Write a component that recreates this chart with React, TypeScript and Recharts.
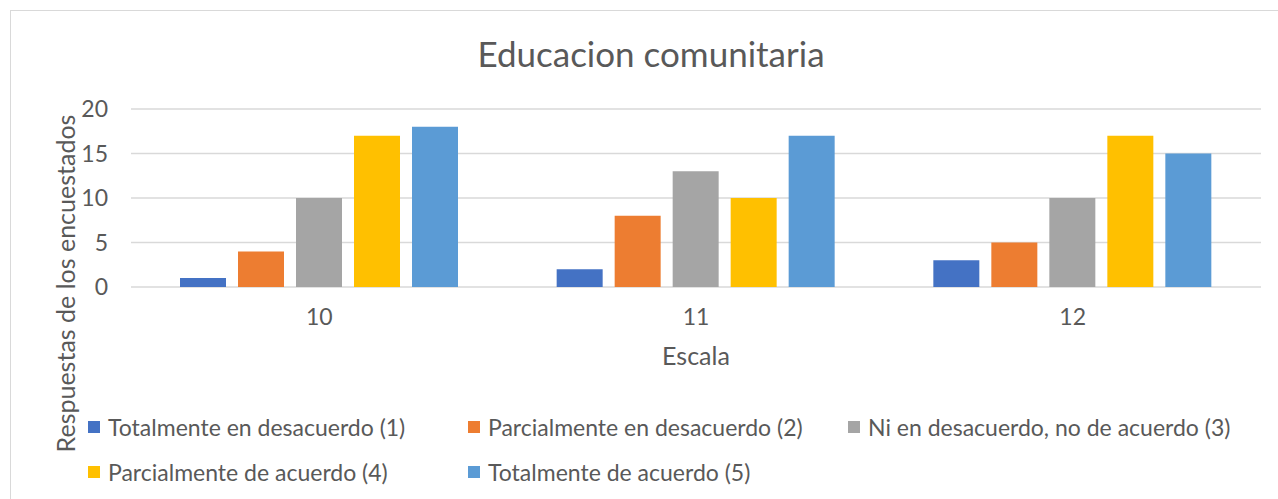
import React from "react";
import {
  BarChart,
  Bar,
  XAxis,
  YAxis,
  CartesianGrid,
  Legend,
  Label,
} from "recharts";

const categories = ["10", "11", "12"];
const totalDesacuerdo = [1, 2, 3];
const parcialDesacuerdo = [4, 8, 5];
const niNi = [10, 13, 10];
const parcialAcuerdo = [17, 10, 17];
const totalAcuerdo = [18, 17, 15];
const yTicks = [0, 5, 10, 15, 20];
const edgeTicks = [0, 1, 2, 3];

const SERIES = [
  { key: "s1", name: "Totalmente en desacuerdo (1)", color: "#4472C4", values: totalDesacuerdo },
  { key: "s2", name: "Parcialmente en desacuerdo (2)", color: "#ED7D31", values: parcialDesacuerdo },
  { key: "s3", name: "Ni en desacuerdo, no de acuerdo (3)", color: "#A5A5A5", values: niNi },
  { key: "s4", name: "Parcialmente de acuerdo (4)", color: "#FFC000", values: parcialAcuerdo },
  { key: "s5", name: "Totalmente de acuerdo (5)", color: "#5B9BD5", values: totalAcuerdo },
];

const data = categories.map((c, i) => {
  const row: Record<string, string | number> = { escala: c };
  SERIES.forEach((s) => (row[s.key] = s.values[i]));
  return row;
});

const TEXT = "#595959";
const GRID = "#D9D9D9";
const FONT = "Lato, 'Open Sans', sans-serif";

const seriesIndex = (name: string) => SERIES.findIndex((s) => s.name === name);

function LegendBox({ payload }: any) {
  const items = [...(payload || [])].sort((a: any, b: any) => seriesIndex(a.value) - seriesIndex(b.value));
  return (
    <div style={{ display: "flex", flexWrap: "wrap", width: 1140, fontFamily: FONT }}>
      {items.map((p: any) => (
        <div
          key={p.value}
          style={{
            width: 380,
            height: 45,
            display: "flex",
            alignItems: "center",
            color: TEXT,
            fontSize: 23,
            whiteSpace: "nowrap",
          }}
        >
          <span style={{ width: 12, height: 12, background: p.color, marginRight: 8, flex: "none" }} />
          <span>{p.value}</span>
        </div>
      ))}
    </div>
  );
}

export default function App() {
  return (
    <div
      style={{
        position: "absolute",
        left: 0,
        top: 0,
        width: 1278,
        height: 499,
        overflow: "hidden",
        background: "#fff",
        fontFamily: FONT,
      }}
    >
      <div
        style={{
          position: "absolute",
          left: 10,
          top: 10,
          width: 1300,
          height: 520,
          border: `1px solid ${GRID}`,
        }}
      />
      <div
        style={{
          position: "absolute",
          left: 0,
          top: 36,
          width: 1302,
          textAlign: "center",
          fontSize: 35,
          lineHeight: "35px",
          color: TEXT,
        }}
      >
        Educacion comunitaria
      </div>
      <div style={{ position: "absolute", left: 0, top: 0 }}>
        <BarChart
          width={1278}
          height={499}
          data={data}
          margin={{ top: 109, right: 17, left: 0, bottom: 0 }}
          barSize={46}
          barGap={12}
          style={{ fontFamily: FONT }}
        >
          <CartesianGrid vertical={false} stroke={GRID} strokeWidth={1.3} />
          <XAxis
            xAxisId="edges"
            type="number"
            domain={[0, 3]}
            ticks={edgeTicks}
            height={0}
            tickSize={7}
            tickFormatter={() => ""}
            axisLine={{ stroke: GRID, strokeWidth: 1.5 }}
            tickLine={{ stroke: GRID, strokeWidth: 1.5 }}
          />
          <XAxis
            dataKey="escala"
            height={212}
            axisLine={false}
            tickLine={false}
            tickSize={0}
            tickMargin={22}
            tick={{ fill: TEXT, fontSize: 23 }}
          >
            <Label value="Escala" position="insideTop" offset={60} fill={TEXT} fontSize={25} />
          </XAxis>
          <YAxis
            width={131}
            domain={[0, 20]}
            ticks={yTicks}
            axisLine={false}
            tickLine={false}
            tickSize={0}
            tickMargin={23}
            tick={{ fill: TEXT, fontSize: 23 }}
            label={{
              content: ({ viewBox }: any) => {
                const cx = viewBox.x + 65;
                const cy = viewBox.y + 174.5;
                return (
                  <text
                    x={cx}
                    y={cy}
                    transform={`rotate(-90 ${cx} ${cy})`}
                    textAnchor="middle"
                    dominantBaseline="central"
                    fill={TEXT}
                    fontSize={25}
                  >
                    Respuestas de los encuestados
                  </text>
                );
              },
            }}
          />
          <Legend
            layout="horizontal"
            verticalAlign="middle"
            align="center"
            content={<LegendBox />}
            wrapperStyle={{ left: 88, top: 404, width: 1140 }}
          />
          {SERIES.map((s) => (
            <Bar key={s.key} dataKey={s.key} name={s.name} fill={s.color} isAnimationActive={false} />
          ))}
        </BarChart>
      </div>
    </div>
  );
}
